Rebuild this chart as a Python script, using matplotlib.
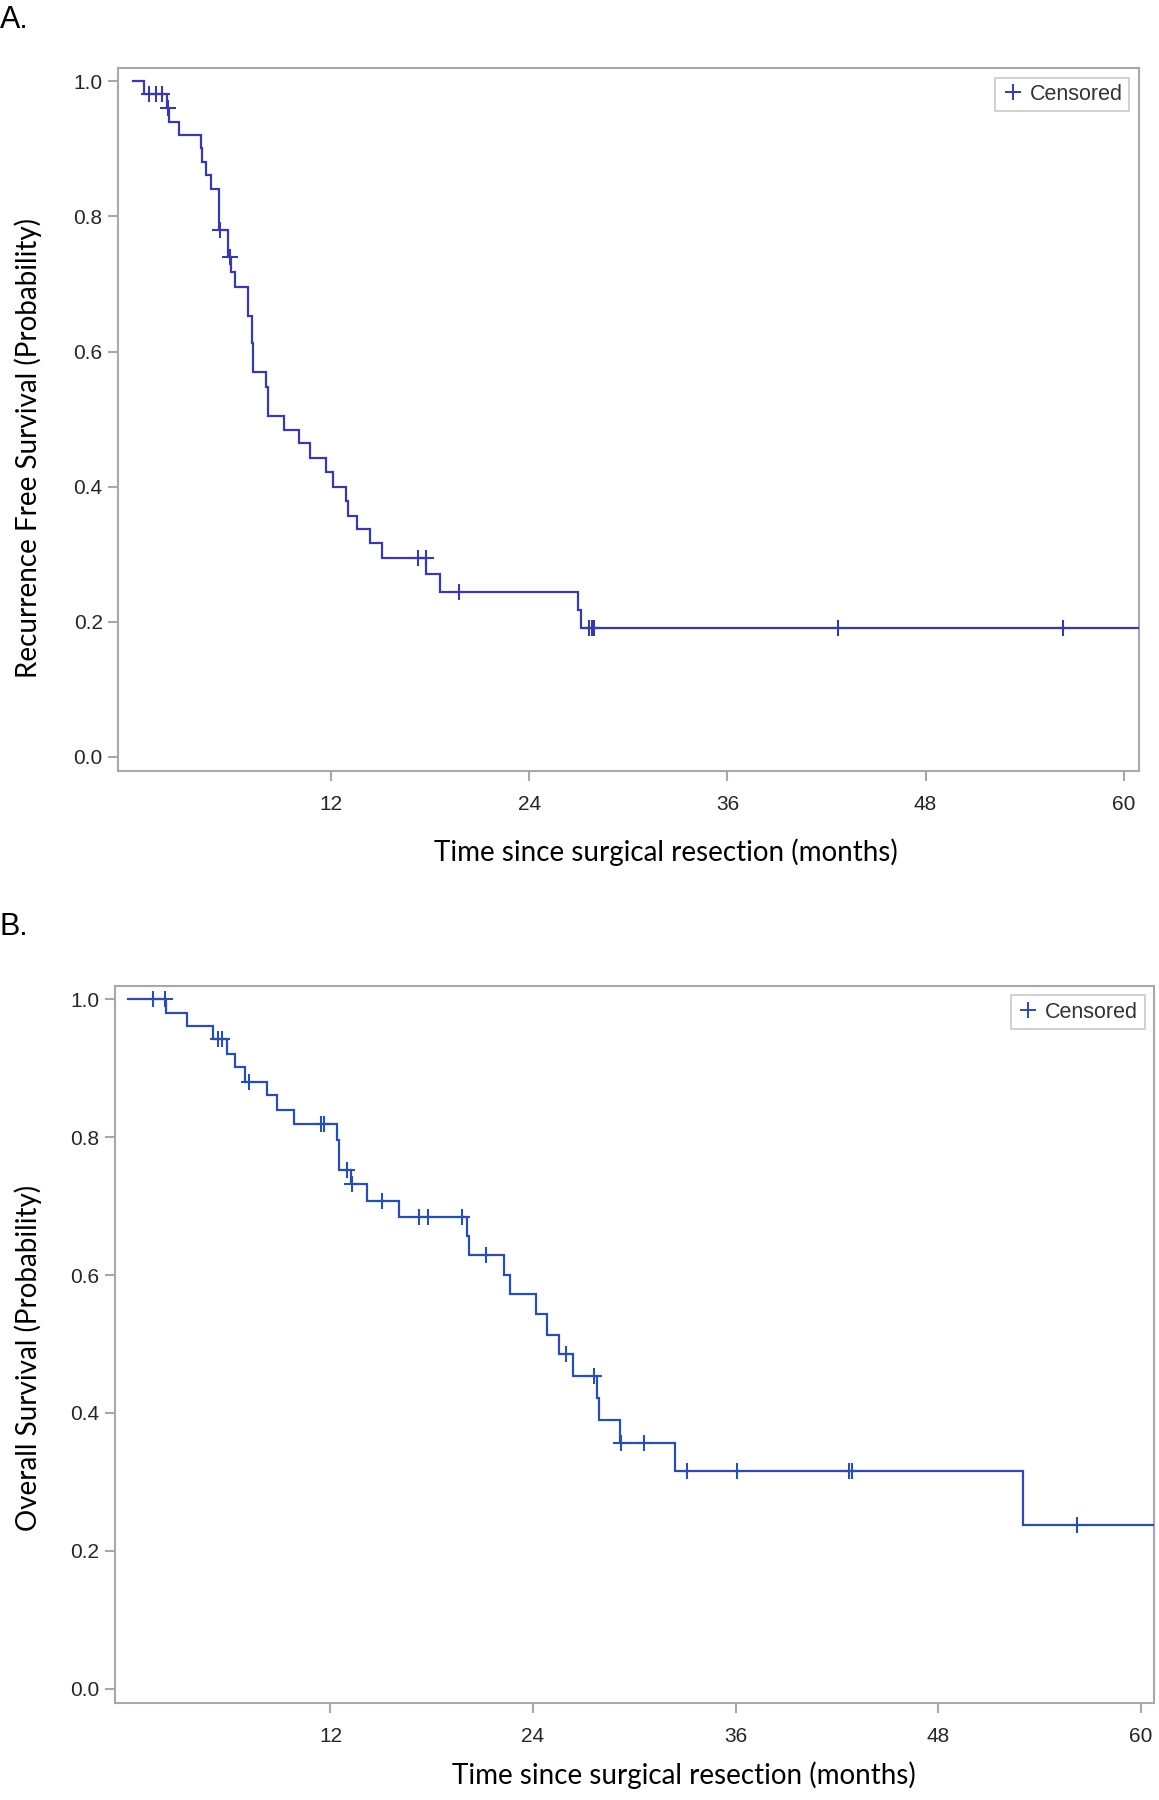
import numpy as np
import matplotlib
matplotlib.use("Agg")
import matplotlib.pyplot as plt
from matplotlib.lines import Line2D

# Panel A: recurrence free survival (Kaplan-Meier steps)
rfs_t = [0, 0.66, 2.05, 2.15, 2.78, 4.09, 4.19, 4.43, 4.74, 5.22, 5.73, 5.95, 6.19,
         6.98, 7.22, 7.28, 8.06, 8.15, 9.15, 10.06, 10.71, 11.7, 12.12, 12.9, 12.99,
         13.57, 14.34, 15.05, 17.75, 18.58, 26.94, 27.15]
rfs_s = [1.0, 0.981, 0.961, 0.940, 0.921, 0.901, 0.880, 0.861, 0.840, 0.780, 0.740,
         0.718, 0.696, 0.653, 0.612, 0.570, 0.548, 0.505, 0.484, 0.465, 0.443, 0.421,
         0.400, 0.378, 0.357, 0.337, 0.316, 0.294, 0.271, 0.244, 0.217, 0.190]
rfs_cens = [0.98, 1.39, 1.73, 2.1, 5.25, 5.9, 17.23, 17.73, 19.75, 27.6, 27.8, 27.9,
            42.7, 56.3]

# Panel B: overall survival
os_t = [0, 2.26, 3.48, 5.02, 5.85, 6.36, 6.94, 8.22, 8.85, 9.86, 12.41, 12.49, 13.2,
        14.17, 16.04, 20.07, 20.2, 22.3, 22.65, 24.18, 24.85, 25.52, 26.39, 27.77,
        27.89, 29.15, 32.43, 53.0]
os_s = [1.0, 0.980, 0.961, 0.942, 0.921, 0.902, 0.880, 0.861, 0.840, 0.819, 0.796,
        0.752, 0.732, 0.708, 0.684, 0.656, 0.629, 0.600, 0.573, 0.543, 0.513, 0.486,
        0.454, 0.422, 0.389, 0.356, 0.316, 0.238]
os_cens = [1.5, 2.2, 5.36, 5.59, 7.19, 11.42, 11.62, 12.96, 13.25, 15.05, 17.25, 17.76,
           19.78, 21.2, 25.93, 27.6, 29.2, 30.57, 33.1, 36.06, 42.7, 42.88, 56.2]

x_ticks = [12, 24, 36, 48, 60]
y_ticks = [0.0, 0.2, 0.4, 0.6, 0.8, 1.0]
x_label = "Time since surgical resection (months)"

GRAY = "#a6a8ab"


def km_panel(ax, t, s, cens, color, xlim, ylabel, xlab_pos, ylab_pos):
    t_end = xlim[1]
    ax.step(list(t) + [t_end], list(s) + [s[-1]], where="post", color=color, lw=1.6,
            solid_joinstyle="miter", zorder=3)
    idx = np.searchsorted(t, cens, side="right") - 1
    cy = np.array(s)[idx]
    ax.plot(cens, cy, ls="none", marker="+", ms=11, mew=1.5, color=color, zorder=4)
    ax.set_xlim(*xlim)
    ax.set_ylim(-0.021, 1.02)
    ax.set_xticks(x_ticks)
    ax.set_yticks(y_ticks)
    ax.set_yticklabels(["%.1f" % v for v in y_ticks])
    for sp in ax.spines.values():
        sp.set_color(GRAY)
        sp.set_linewidth(1.5)
    ax.tick_params(direction="out", length=7, width=1.5, color=GRAY,
                   labelsize=15, labelcolor="#262626")
    ax.tick_params(axis="x", pad=10)
    ax.tick_params(axis="y", pad=4)
    for lab in ax.get_xticklabels() + ax.get_yticklabels():
        lab.set_family("Liberation Sans")
    ax.set_xlabel(x_label, family="Lato", fontsize=20, va="center", ha="center")
    ax.set_ylabel(ylabel, family="Lato", fontsize=20, va="center", ha="center")
    ax.xaxis.set_label_coords(*xlab_pos)
    ax.yaxis.set_label_coords(*ylab_pos)
    h = Line2D([], [], ls="none", marker="+", ms=11, mew=1.4, color=color)
    leg = ax.legend([h], ["Censored"], loc="upper right", fancybox=False,
                    edgecolor="#c8c8c8", framealpha=1, borderpad=0.3,
                    handletextpad=0.3, handlelength=1.0, borderaxespad=0.45,
                    prop={"family": "Liberation Sans", "size": 15.5})
    leg.get_frame().set_linewidth(1.2)
    for txt in leg.get_texts():
        txt.set_color("#333333")


fig = plt.figure(figsize=(11.59, 18), dpi=100)

axA = fig.add_axes([0.1018, 0.5717, 0.8809, 0.3906])
km_panel(axA, rfs_t, rfs_s, rfs_cens, "#3a3aa6", (-0.91, 60.92),
         "Recurrence Free Survival (Probability)", (0.537, -0.116), (-0.0875, 0.460))

axB = fig.add_axes([0.0990, 0.0539, 0.8970, 0.3985])
km_panel(axB, os_t, os_s, os_cens, "#2a4eaa", (-0.78, 60.81),
         "Overall Survival (Probability)", (0.5475, -0.1004), (-0.0828, 0.4817))

fig.text(0.0, 0.997, "A.", ha="left", va="top", family="Liberation Sans", fontsize=22)
fig.text(0.0, 0.4935, "B.", ha="left", va="top", family="Liberation Sans", fontsize=22)

fig.savefig("out.png", dpi=100)
